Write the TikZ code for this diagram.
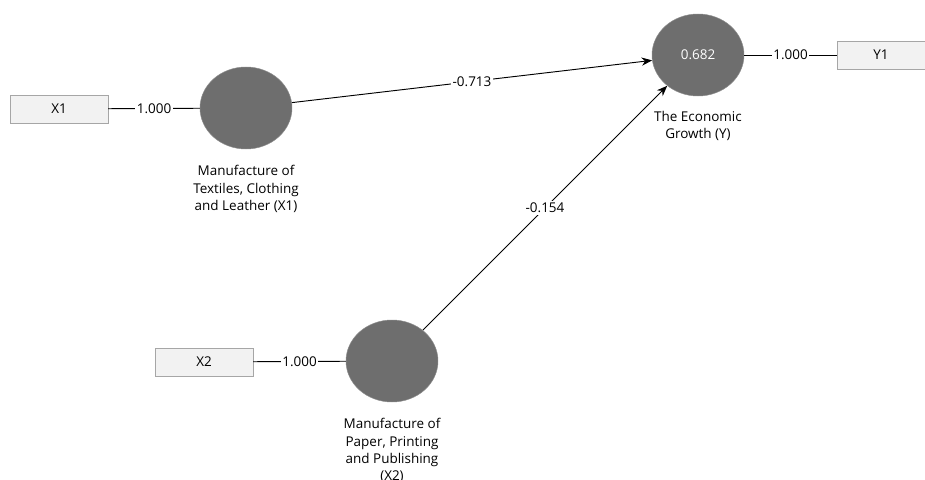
\documentclass[tikz,border=0pt]{standalone}
\usepackage{fontspec}
\setmainfont{Open Sans}
\usetikzlibrary{positioning,shapes.geometric,arrows.meta}

\newcommand{\pls}{\fontsize{11.5}{14.6}\selectfont}

\tikzset{
    indicator/.style={draw=black!35, fill=black!5, minimum width=2.94cm, minimum height=0.84cm, inner sep=0pt, font=\pls},
    latent/.style={ellipse, fill=black!57, draw=black!45, minimum width=2.76cm, minimum height=2.46cm, inner sep=0pt},
    caption/.style={align=center, font=\pls, inner sep=1pt},
    weight/.style={fill=white, inner sep=1.5pt, font=\pls},
    path/.style={-{Stealth[length=9pt,width=7pt]}, thick}
}

\begin{document}
\begin{tikzpicture}[x=0.03cm, y=-0.03cm]
        \useasboundingbox (0,0) rectangle (925,480);

        % Latent variables
        \node[latent] (fx1) at (246,108) {};
        \node[latent] (fx2) at (392,361) {};
        \node[latent] (fy) at (698,55) {\textcolor{white}{\pls 0.682}};

        % Indicators
        \node[indicator] (x1) at (59,109) {X1};
        \node[indicator] (x2) at (204,362) {X2};
        \node[indicator, minimum width=2.64cm] (y1) at (881,55) {Y1};

        % Captions under the circles
        \node[caption, below=0.45cm of fx1] (cx1) {Manufacture of\\Textiles, Clothing\\and Leather (X1)};
        \node[caption, below=0.45cm of fx2] (cx2) {Manufacture of\\Paper, Printing\\and Publishing\\(X2)};
        \node[caption, below=0.4cm of fy] (cy) {The Economic\\Growth (Y)};

        % Outer loadings
        \draw[thick] (x1) -- node[weight] {1.000} (fx1);
        \draw[thick] (x2) -- node[weight] {1.000} (fx2);
        \draw[thick] (fy) -- node[weight] {1.000} (y1);

        % Path coefficients
        \draw[path] (fx1) -- node[weight] {-0.713} (fy);
        \draw[path] (fx2) -- node[weight] {-0.154} (fy);
    \end{tikzpicture}
\end{document}
